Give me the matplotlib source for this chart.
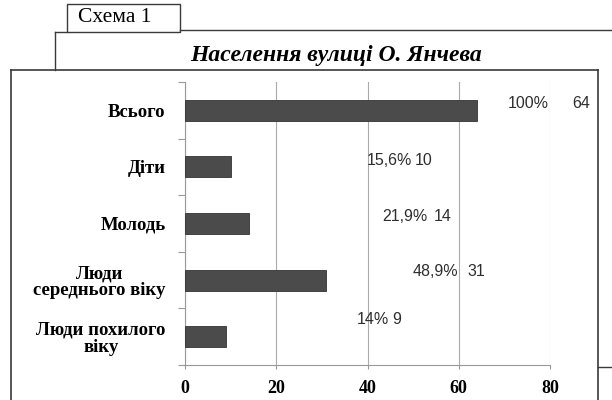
import matplotlib
matplotlib.use("Agg")
import matplotlib.pyplot as plt
from matplotlib.lines import Line2D
from matplotlib.patches import Rectangle

# Data
categories = ["Всього", "Діти", "Молодь", "Люди\nсереднього віку", "Люди похилого\nвіку"]
counts = [64, 10, 14, 31, 9]
shares = ["100%", "15,6%", "21,9%", "48,9%", "14%"]
x_ticks = [0, 20, 40, 60, 80]

# where the labels sit (x in data units, lift above the bar centre in category units)
share_x = [70.8, 39.9, 43.2, 49.8, 37.7]
count_x = [84.8, 50.4, 54.6, 62.0, 45.4]
label_lift = [0.12, 0.12, 0.13, 0.16, 0.31]

W, H = 612, 400
fig = plt.figure(figsize=(W / 100, H / 100), dpi=100)
serif = "Liberation Serif"
sans = "Liberation Sans"


def fx(x):
    return x / W


def fy(y):
    return 1 - y / H


frame_col = "#3a3a3a"

# header box "Схема 1"
fig.add_artist(Rectangle((fx(67), fy(32)), fx(180) - fx(67), fy(4) - fy(32),
                         transform=fig.transFigure, fill=False, lw=1.0, ec=frame_col))
fig.text(fx(78), fy(18), "Схема 1", family=serif, fontsize=15.5, va="center", ha="left")

# connector lines
fig.add_artist(Line2D([fx(180), fx(612)], [fy(30), fy(30)], transform=fig.transFigure, lw=1.0, color=frame_col))
fig.add_artist(Line2D([fx(55), fx(67)], [fy(32), fy(32)], transform=fig.transFigure, lw=1.0, color=frame_col))
fig.add_artist(Line2D([fx(55), fx(55)], [fy(32), fy(70)], transform=fig.transFigure, lw=1.0, color=frame_col))

# main frame
fig.add_artist(Line2D([fx(11), fx(598)], [fy(70), fy(70)], transform=fig.transFigure, lw=1.2, color=frame_col))
fig.add_artist(Line2D([fx(11), fx(11)], [fy(70), fy(400)], transform=fig.transFigure, lw=1.2, color=frame_col))
fig.add_artist(Line2D([fx(598), fx(598)], [fy(70), fy(400)], transform=fig.transFigure, lw=1.2, color=frame_col))
fig.add_artist(Line2D([fx(598), fx(612)], [fy(367), fy(367)], transform=fig.transFigure, lw=1.0, color=frame_col))

fig.text(fx(336), fy(55), "Населення вулиці О. Янчева", family=serif, fontsize=17,
         fontweight="bold", fontstyle="italic", ha="center", va="center")

ax = fig.add_axes([fx(185), fy(365), fx(550) - fx(185), fy(82) - fy(365)])
ypos = list(range(len(categories)))
ax.barh(ypos, counts, height=0.37, color="#4b4b4b", edgecolor="#333333", linewidth=0.6, zorder=3)

ax.set_xlim(0, 80)
ax.set_ylim(len(categories) - 0.5, -0.5)
ax.set_xticks(x_ticks)
ax.set_xticklabels([str(t) for t in x_ticks], family=serif, fontweight="bold", fontsize=13)
ax.set_yticks(ypos)
ax.set_yticklabels(categories, family=serif, fontweight="bold", fontsize=13.5,
                   multialignment="center", linespacing=1.0)
ax.set_yticks([i - 0.5 for i in range(len(categories) + 1)], minor=True)
ax.tick_params(axis="y", which="major", length=0, pad=14)
ax.tick_params(axis="y", which="minor", length=5, color="#999999", width=0.8)
ax.tick_params(axis="x", length=3, color="#999999", width=0.8, pad=8)
ax.grid(axis="x", color="#aaaaaa", lw=0.8, zorder=0)
for s in ["top", "right"]:
    ax.spines[s].set_visible(False)
for s in ["left", "bottom"]:
    ax.spines[s].set_color("#999999")
    ax.spines[s].set_linewidth(0.8)

for i in ypos:
    y = i - label_lift[i]
    ax.text(share_x[i], y, shares[i], family=sans, fontsize=11.5, color="#2e2e2e",
            ha="left", va="center", clip_on=False)
    ax.text(count_x[i], y, str(counts[i]), family=sans, fontsize=11.5, color="#2e2e2e",
            ha="left", va="center", clip_on=False)

fig.savefig("out.png", dpi=100)
